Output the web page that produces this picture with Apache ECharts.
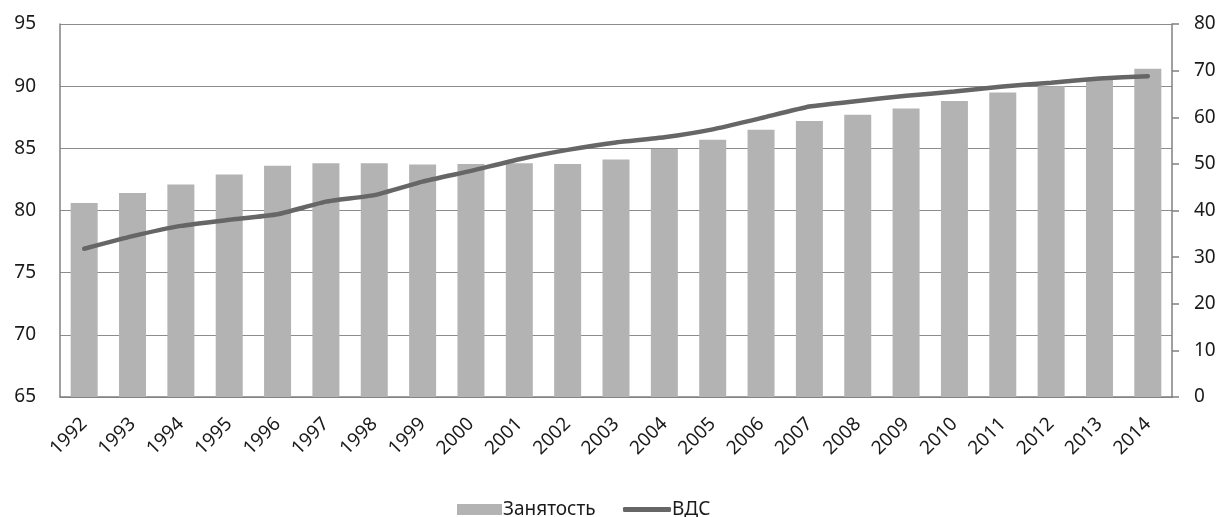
<!DOCTYPE html>
<html><head><meta charset="utf-8">
<script src="https://cdn.jsdelivr.net/npm/echarts@6/dist/echarts.min.js"></script>
<style>html,body{margin:0;padding:0;background:#fff}#c{width:1222px;height:517px}</style>
</head><body><div id="c"></div>
<script>
const years = ['1992','1993','1994','1995','1996','1997','1998','1999','2000','2001','2002','2003','2004','2005','2006','2007','2008','2009','2010','2011','2012','2013','2014'];
const employment = [80.6,81.4,82.1,82.9,83.6,83.8,83.8,83.7,83.75,83.8,83.75,84.1,84.95,85.7,86.5,87.2,87.7,88.2,88.8,89.5,90.0,90.5,91.4];
const gva = [31.8,34.5,36.7,38.0,39.2,41.9,43.3,46.2,48.5,51.0,53.0,54.6,55.7,57.4,59.8,62.3,63.5,64.6,65.5,66.6,67.4,68.3,68.8];
const leftTicks = {min:65, max:95, interval:5};
const rightTicks = {min:0, max:80, interval:10};

const font = 'Noto Sans';
const fs = 19;
const chart = echarts.init(document.getElementById('c'));
chart.setOption({
  animation:false,
  textStyle:{fontFamily:font},
  grid:{left:60,right:50,top:24,bottom:120,containLabel:false},
  legend:[
    {data:[{name:'Занятость',icon:'rect'}],left:452,top:495,itemWidth:45,itemHeight:11,itemGap:4,
     textStyle:{fontSize:fs,color:'#1a1a1a',fontFamily:font,padding:[0,0,0,-4]}},
    {data:[{name:'ВДС',icon:'roundRect'}],left:618,top:495,itemWidth:48,itemHeight:5,
     textStyle:{fontSize:fs,color:'#1a1a1a',fontFamily:font,padding:[0,0,0,-4]}}
  ],
  xAxis:{type:'category',data:years,boundaryGap:true,
    axisLine:{lineStyle:{color:'#808080',width:1.5}},
    axisTick:{show:false},
    axisLabel:{rotate:45,fontSize:fs,color:'#1a1a1a',margin:24,interval:0,fontFamily:font}},
  yAxis:[
    {type:'value',min:leftTicks.min,max:leftTicks.max,interval:leftTicks.interval,position:'left',
     axisLine:{show:true,lineStyle:{color:'#808080',width:1.5}},
     axisTick:{show:false},
     splitLine:{lineStyle:{color:'#8c8c8c',width:1.2}},
     axisLabel:{fontSize:fs,color:'#1a1a1a',margin:24,fontFamily:font}},
    {type:'value',min:rightTicks.min,max:rightTicks.max,interval:rightTicks.interval,position:'right',
     axisLine:{show:true,lineStyle:{color:'#808080',width:1.5}},
     axisTick:{show:true,length:7,lineStyle:{color:'#808080',width:1.5}},
     splitLine:{show:false},
     axisLabel:{fontSize:fs,color:'#1a1a1a',margin:22,fontFamily:font}}
  ],
  series:[
    {name:'Занятость',type:'bar',data:employment,yAxisIndex:0,barWidth:27,
     itemStyle:{color:'#b3b3b3'}},
    {name:'ВДС',type:'line',data:gva,yAxisIndex:1,smooth:0.15,showSymbol:false,
     lineStyle:{color:'#666666',width:4.5,cap:'round'},itemStyle:{color:'#666666'}}
  ]
});
</script></body></html>
